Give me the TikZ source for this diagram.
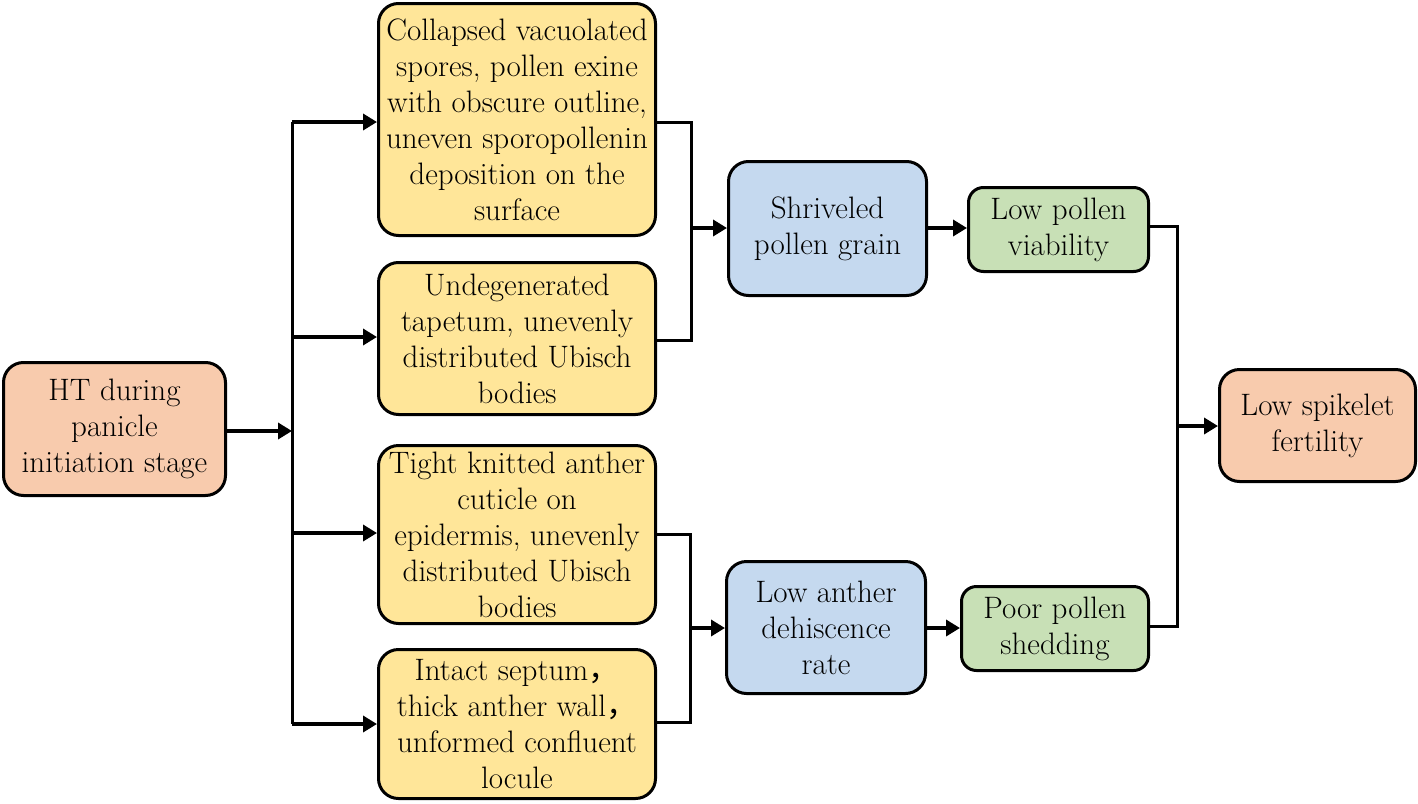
\documentclass[tikz,border=0pt]{standalone}
\usepackage{fontspec}
\newfontfamily\cjk{Noto Sans CJK SC}
\usetikzlibrary{arrows.meta}
\definecolor{salmon}{HTML}{F8CBAD}
\definecolor{ylw}{HTML}{FFE699}
\definecolor{blu}{HTML}{C5D9EF}
\definecolor{grn}{HTML}{C8E0B6}
\begin{document}
\begin{tikzpicture}[x=1pt,y=-1pt,
  box/.style={draw=black, line width=3pt, rounded corners=20pt, inner sep=0pt, align=center,
    font=\rmfamily\fontsize{31}{36}\selectfont},
  conn/.style={line width=3pt, line join=miter},
  arr/.style={line width=3.5pt, -{Triangle[length=14pt,width=16pt]}},
]
\useasboundingbox (0,0) rectangle (1418,803);
% nodes
\node[box, fill=salmon, minimum width=222pt, minimum height=133pt] (ht) at (114.5,429) {HT during\\panicle\\initiation stage};
\node[box, fill=ylw, minimum width=277pt, minimum height=232pt] (y1) at (517,119.5) {Collapsed vacuolated\\spores, pollen exine\\with obscure outline,\\uneven sporopollenin\\deposition on the\\surface};
\node[box, fill=ylw, minimum width=277pt, minimum height=152pt] (y2) at (517,338.5) {Undegenerated\\tapetum, unevenly\\distributed Ubisch\\bodies};
\node[box, fill=ylw, minimum width=277pt, minimum height=178pt] (y3) at (517,534.5) {Tight knitted anther\\cuticle on\\epidermis, unevenly\\distributed Ubisch\\bodies};
\node[box, fill=ylw, minimum width=277pt, minimum height=149pt] (y4) at (517,724) {Intact septum{\cjk ，}\\thick anther wall{\cjk ，}\\unformed confluent\\locule};
\node[box, fill=blu, minimum width=198pt, minimum height=134pt] (b1) at (827.5,228.5) {Shriveled\\pollen grain};
\node[box, fill=blu, minimum width=199pt, minimum height=132pt] (b2) at (826,627.5) {Low anther\\dehiscence\\rate};
\node[box, fill=grn, minimum width=180pt, minimum height=84pt, rounded corners=15pt] (g1) at (1058.5,229.5) {Low pollen\\viability};
\node[box, fill=grn, minimum width=187pt, minimum height=84pt, rounded corners=15pt] (g2) at (1055,628.5) {Poor pollen\\shedding};
\node[box, fill=salmon, minimum width=196pt, minimum height=112pt] (sp) at (1317.5,425.5) {Low spikelet\\fertility};
% coordinates
\coordinate (t0) at (292,431);
\coordinate (t1) at (292,122);
\coordinate (t2) at (292,337);
\coordinate (t3) at (292,533);
\coordinate (t4) at (292,724);
\coordinate (j1) at (691,122);
\coordinate (j2) at (691,340);
\coordinate (m1) at (691,228);
\coordinate (j3) at (690,534);
\coordinate (j4) at (690,722);
\coordinate (m2) at (690,628);
\coordinate (k1) at (1177,226);
\coordinate (k2) at (1177,626);
\coordinate (m3) at (1177,426);
% trunk
\draw[arr] (ht.east |- t0) -- (t0);
\draw[conn] (t1) -- (t4);
\draw[arr] (t1) -- (t1 -| y1.west);
\draw[arr] (t2) -- (t2 -| y2.west);
\draw[arr] (t3) -- (t3 -| y3.west);
\draw[arr] (t4) -- (t4 -| y4.west);
% brackets
\draw[conn] (y1.east |- j1) -- (j1) -- (j2) -- (y2.east |- j2);
\draw[arr] (m1) -- (m1 -| b1.west);
\draw[conn] (y3.east |- j3) -- (j3) -- (j4) -- (y4.east |- j4);
\draw[arr] (m2) -- (m2 -| b2.west);
\draw[arr] (b1.east |- m1) -- (m1 -| g1.west);
\draw[arr] (b2.east |- m2) -- (m2 -| g2.west);
\draw[conn] (g1.east |- k1) -- (k1) -- (k2) -- (g2.east |- k2);
\draw[arr] (m3) -- (m3 -| sp.west);
\end{tikzpicture}
\end{document}
